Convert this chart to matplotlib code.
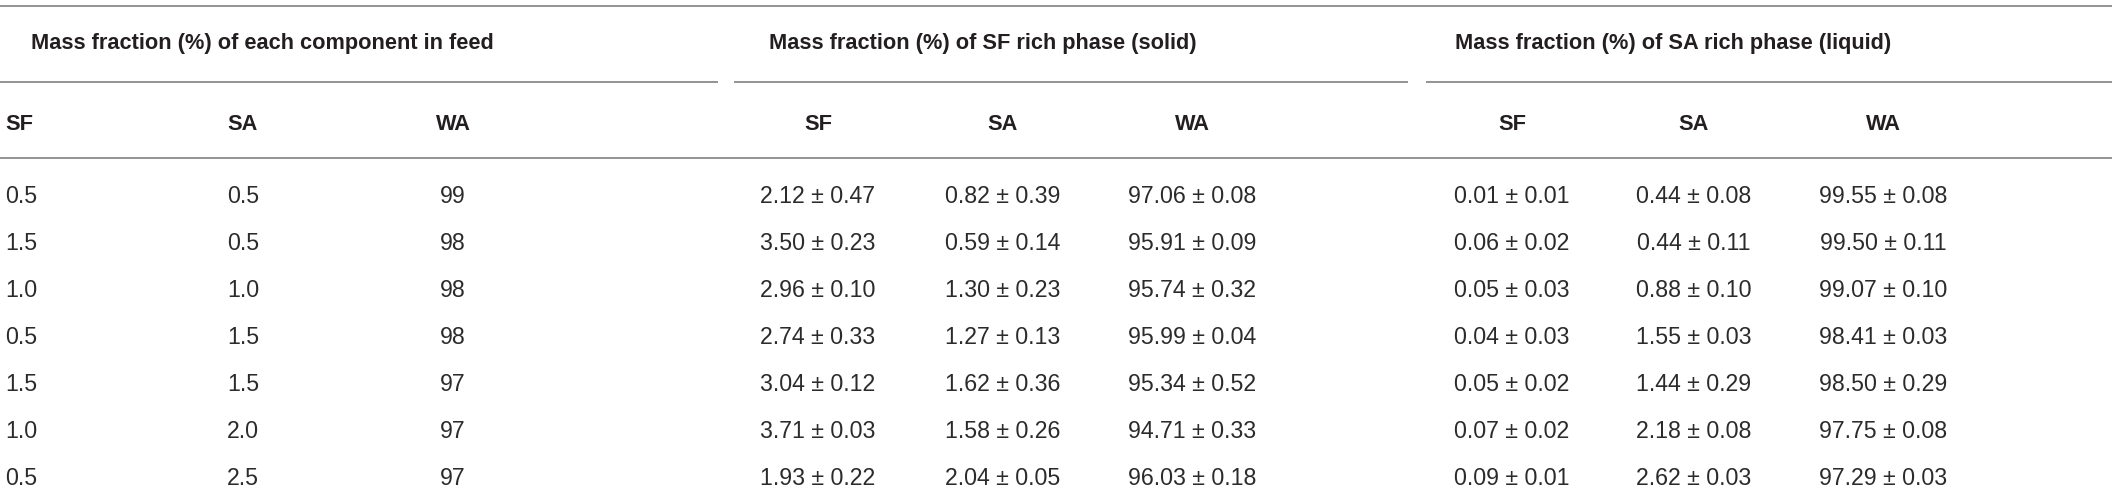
import matplotlib
matplotlib.use("Agg")
import matplotlib.pyplot as plt

# ---- data ----
group_headers = ["Mass fraction (%) of each component in feed",
                 "Mass fraction (%) of SF rich phase (solid)",
                 "Mass fraction (%) of SA rich phase (liquid)"]
col_headers = ["SF", "SA", "WA", "SF", "SA", "WA", "SF", "SA", "WA"]
feed_sf = ["0.5", "1.5", "1.0", "0.5", "1.5", "1.0", "0.5"]
feed_sa = ["0.5", "0.5", "1.0", "1.5", "1.5", "2.0", "2.5"]
feed_wa = ["99", "98", "98", "98", "97", "97", "97"]
solid_sf = ["2.12 ± 0.47", "3.50 ± 0.23", "2.96 ± 0.10", "2.74 ± 0.33", "3.04 ± 0.12", "3.71 ± 0.03", "1.93 ± 0.22"]
solid_sa = ["0.82 ± 0.39", "0.59 ± 0.14", "1.30 ± 0.23", "1.27 ± 0.13", "1.62 ± 0.36", "1.58 ± 0.26", "2.04 ± 0.05"]
solid_wa = ["97.06 ± 0.08", "95.91 ± 0.09", "95.74 ± 0.32", "95.99 ± 0.04", "95.34 ± 0.52", "94.71 ± 0.33", "96.03 ± 0.18"]
liq_sf = ["0.01 ± 0.01", "0.06 ± 0.02", "0.05 ± 0.03", "0.04 ± 0.03", "0.05 ± 0.02", "0.07 ± 0.02", "0.09 ± 0.01"]
liq_sa = ["0.44 ± 0.08", "0.44 ± 0.11", "0.88 ± 0.10", "1.55 ± 0.03", "1.44 ± 0.29", "2.18 ± 0.08", "2.62 ± 0.03"]
liq_wa = ["99.55 ± 0.08", "99.50 ± 0.11", "99.07 ± 0.10", "98.41 ± 0.03", "98.50 ± 0.29", "97.75 ± 0.08", "97.29 ± 0.03"]

columns = [feed_sf, feed_sa, feed_wa, solid_sf, solid_sa, solid_wa, liq_sf, liq_sa, liq_wa]

# ---- layout ----
W, H = 2117, 494
fig = plt.figure(figsize=(W / 100, H / 100), dpi=100)
ax = fig.add_axes([0, 0, 1, 1])
ax.set_xlim(0, W)
ax.set_ylim(H, 0)
ax.axis("off")

font = "Liberation Sans"
txt_color = "#231f20"
body_color = "#2b2b2b"
line_color = "#8a8a8a"
lw = 1.3

col_x = [5, 243, 453, 818, 1003, 1192, 1512, 1694, 1883]
col_ha = ["left", "center", "center", "center", "center", "center", "center", "center", "center"]
group_x = [262, 983, 1673]
group_spans = [(0, 718), (734, 1408), (1426, 2112)]

y_top, y_mid, y_hdr = 6, 82, 158
y_group, y_col = 43, 124
row_y0, row_dy = 196, 47

# horizontal rules
ax.plot([0, 2112], [y_top, y_top], color=line_color, lw=lw, solid_capstyle="butt")
for x0, x1 in group_spans:
    ax.plot([x0, x1], [y_mid, y_mid], color=line_color, lw=lw, solid_capstyle="butt")
ax.plot([0, 2112], [y_hdr, y_hdr], color=line_color, lw=lw, solid_capstyle="butt")

# group headers
for gx, g in zip(group_x, group_headers):
    ax.text(gx, y_group, g, ha="center", va="center", fontsize=15.7,
            fontweight="bold", family=font, color=txt_color)

# column headers
for cx, ha, c in zip(col_x, col_ha, col_headers):
    ax.text(cx, y_col, c, ha=ha, va="center", fontsize=15.7,
            fontweight="bold", family=font, color=txt_color)

# body
for cx, ha, vals in zip(col_x, col_ha, columns):
    for i, v in enumerate(vals):
        ax.text(cx, row_y0 + i * row_dy, v, ha=ha, va="center", fontsize=16.7,
                family=font, color=body_color)

fig.savefig("out.png", dpi=100)
